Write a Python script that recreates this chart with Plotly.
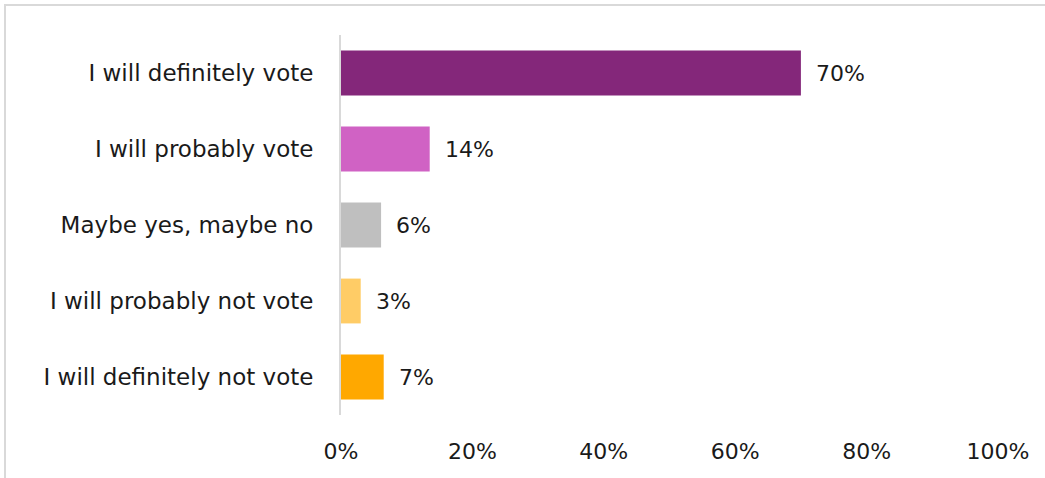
import plotly.graph_objects as go

categories = ["I will definitely vote", "I will probably vote", "Maybe yes, maybe no",
              "I will probably not vote", "I will definitely not vote"]
values = [70, 13.5, 6.1, 3.0, 6.5]
labels = ["70%", "14%", "6%", "3%", "7%"]
colors = ["#84277A", "#D062C4", "#BFBFBF", "#FFCC66", "#FFA800"]
tick_vals = [0, 20, 40, 60, 80, 100]
tick_text = ["0%", "20%", "40%", "60%", "80%", "100%"]

FONT = "DejaVu Sans"
fig = go.Figure()
fig.add_trace(go.Bar(
    x=values, y=categories, orientation="h",
    marker=dict(color=colors, line=dict(width=0)),
    hoverinfo="skip",
))
for v, c, t in zip(values, categories, labels):
    fig.add_annotation(x=v, y=c, text=t, showarrow=False, xanchor="left",
                       xshift=13, font=dict(family=FONT, size=22, color="#1a1a1a"))

fig.update_layout(
    width=1045, height=478,
    margin=dict(l=341, r=47, t=35, b=63),
    paper_bgcolor="white", plot_bgcolor="white",
    bargap=0.41,
    showlegend=False,
    font=dict(family=FONT, size=22, color="#1a1a1a"),
    xaxis=dict(range=[0, 100], tickvals=tick_vals, ticktext=tick_text,
               showgrid=False, zeroline=False, showline=False, ticks="",
               ticklabelstandoff=21, tickfont=dict(size=22), fixedrange=True),
    yaxis=dict(autorange="reversed", showgrid=False, zeroline=False,
               showline=True, linecolor="#d9d9d9", linewidth=2, ticks="",
               ticklabelstandoff=21, tickfont=dict(size=23), fixedrange=True),
    shapes=[dict(type="rect", xref="paper", yref="paper",
                 x0=-0.5114, x1=1.2, y0=-0.5, y1=1.0789,
                 line=dict(color="#d9d9d9", width=2), fillcolor="rgba(0,0,0,0)",
                 layer="below")],
)
fig.write_html("out.html",
               config={"displayModeBar": False, "staticPlot": True},
               post_script="document.body.style.margin='0';document.body.style.overflow='hidden';")
